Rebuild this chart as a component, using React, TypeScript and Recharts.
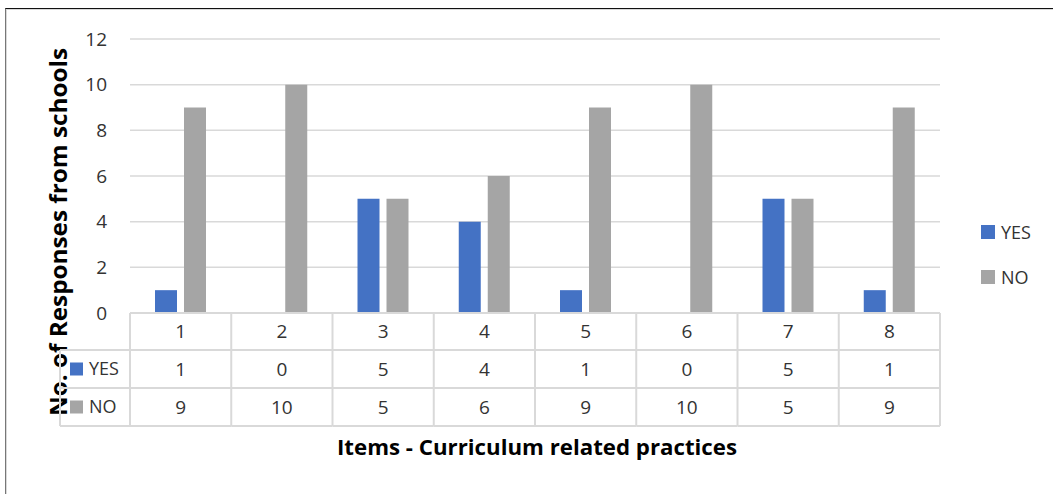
import { Bar, BarChart, CartesianGrid, Legend, XAxis, YAxis } from "recharts";

const items = ["1", "2", "3", "4", "5", "6", "7", "8"];
const yesValues = [1, 0, 5, 4, 1, 0, 5, 1];
const noValues = [9, 10, 5, 6, 9, 10, 5, 9];
const yTicks = [0, 2, 4, 6, 8, 10, 12];
const seriesOrder = ["YES", "NO"];

const YES_COLOR = "#4472C4";
const NO_COLOR = "#A5A5A5";
const LINE = "#d9d9d9";
const TEXT = "#333";
const FONT = "'Open Sans', sans-serif";

const W = 1053;
const H = 494;
const margin = { top: 39, right: 113, left: 80, bottom: 66 };
const Y_AXIS_W = 50;
const X_AXIS_H = 115;
const PLOT_LEFT = margin.left + Y_AXIS_W;
const PLOT_RIGHT = W - margin.right;
const PLOT_BOTTOM = H - margin.bottom - X_AXIS_H;
const BAND = (PLOT_RIGHT - PLOT_LEFT) / items.length;
// row borders of the data table under the plot
const ROWS = [PLOT_BOTTOM, 350, 388, 426];
const LEGEND_COL_LEFT = 60;

const data = items.map((item, i) => ({
  item,
  yes: yesValues[i],
  no: noValues[i],
}));

function rowMid(r: number) {
  return (ROWS[r] + ROWS[r + 1]) / 2;
}

function LegendColumn() {
  const rows = [
    { name: "YES", color: YES_COLOR, r: 1 },
    { name: "NO", color: NO_COLOR, r: 2 },
  ];
  return (
    <g>
      <line x1={LEGEND_COL_LEFT} x2={LEGEND_COL_LEFT} y1={ROWS[1]} y2={ROWS[3]} stroke={LINE} strokeWidth={2} />
      {[1, 2, 3].map((r) => (
        <line key={r} x1={LEGEND_COL_LEFT} x2={PLOT_LEFT} y1={ROWS[r]} y2={ROWS[r]} stroke={LINE} strokeWidth={2} />
      ))}
      {rows.map((row) => (
        <g key={row.name}>
          <rect x={70} y={rowMid(row.r) - 6.5} width={13} height={13} fill={row.color} />
          <text x={89} y={rowMid(row.r)} dy="0.35em" fontSize={18} fill={TEXT} fontFamily={FONT}>
            {row.name}
          </text>
        </g>
      ))}
    </g>
  );
}

function TableTick(props: any) {
  const { x, index } = props;
  const left = x - BAND / 2;
  const right = x + BAND / 2;
  const cells = [items[index], yesValues[index], noValues[index]];
  return (
    <g>
      {index === 0 && <LegendColumn />}
      {index === 0 && (
        <line x1={left} x2={left} y1={ROWS[0]} y2={ROWS[3]} stroke={LINE} strokeWidth={2} />
      )}
      <line x1={right} x2={right} y1={ROWS[0]} y2={ROWS[3]} stroke={LINE} strokeWidth={2} />
      {[1, 2, 3].map((r) => (
        <line key={r} x1={left} x2={right} y1={ROWS[r]} y2={ROWS[r]} stroke={LINE} strokeWidth={2} />
      ))}
      {cells.map((c, r) => (
        <text
          key={r}
          x={x}
          y={rowMid(r)}
          dy="0.35em"
          textAnchor="middle"
          fontSize={19}
          fill={TEXT}
          fontFamily={FONT}
        >
          {c}
        </text>
      ))}
    </g>
  );
}

function LegendContent(props: any) {
  const payload = [...(props.payload || [])].sort(
    (a: any, b: any) => seriesOrder.indexOf(a.value) - seriesOrder.indexOf(b.value)
  );
  return (
    <div style={{ fontFamily: FONT, fontSize: 18, color: TEXT }}>
      {payload.map((p: any) => (
        <div key={p.value} style={{ display: "flex", alignItems: "center", height: 45 }}>
          <span style={{ display: "inline-block", width: 14, height: 14, background: p.color, marginRight: 6 }} />
          {p.value}
        </div>
      ))}
    </div>
  );
}

export default function App() {
  return (
    <div style={{ position: "fixed", left: 0, top: 0, width: W, height: H, background: "#fff", fontFamily: FONT }}>
      <div
        style={{
          position: "absolute",
          left: 5,
          top: 8,
          width: W - 5,
          height: H - 8,
          borderTop: "1px solid #111",
          borderLeft: "1px solid #777",
          boxShadow: "inset 1px 1px 0 #d9d9d9",
        }}
      />
      <BarChart
        width={W}
        height={H}
        data={data}
        margin={margin}
        barSize={22}
        barGap={7}
        style={{ position: "absolute", left: 0, top: 0 }}
      >
        <CartesianGrid vertical={false} stroke={LINE} strokeWidth={1.5} />
        <XAxis
          dataKey="item"
          height={X_AXIS_H}
          interval={0}
          tickLine={false}
          axisLine={{ stroke: LINE, strokeWidth: 2 }}
          tick={<TableTick />}
          label={{
            content: () => (
              <text
                x={(PLOT_LEFT + PLOT_RIGHT) / 2 + 2}
                y={448}
                dy="0.35em"
                textAnchor="middle"
                fontSize={21}
                fontWeight="bold"
                fill="#000"
                fontFamily={FONT}
                textLength={400}
                lengthAdjust="spacingAndGlyphs"
              >
                Items - Curriculum related practices
              </text>
            ),
          }}
        />
        <YAxis
          width={Y_AXIS_W}
          domain={[0, 12]}
          ticks={yTicks}
          interval={0}
          tickLine={false}
          axisLine={false}
          tickSize={0}
          tickMargin={23}
          tick={{ fontSize: 19, fill: TEXT, fontFamily: FONT }}
          label={{
            content: () => (
              <text
                x={59}
                y={232}
                dy="0.35em"
                textAnchor="middle"
                transform="rotate(-90 59 232)"
                fontSize={24}
                fontWeight="bold"
                fill="#000"
                fontFamily={FONT}
                textLength={368}
                lengthAdjust="spacingAndGlyphs"
              >
                No. of Responses from schools
              </text>
            ),
          }}
        />
        <Legend
          layout="horizontal"
          verticalAlign="middle"
          align="center"
          content={<LegendContent />}
          wrapperStyle={{ left: 981, top: 209, width: "auto" }}
        />
        <Bar dataKey="yes" name="YES" fill={YES_COLOR} isAnimationActive={false} />
        <Bar dataKey="no" name="NO" fill={NO_COLOR} isAnimationActive={false} />
      </BarChart>
    </div>
  );
}
